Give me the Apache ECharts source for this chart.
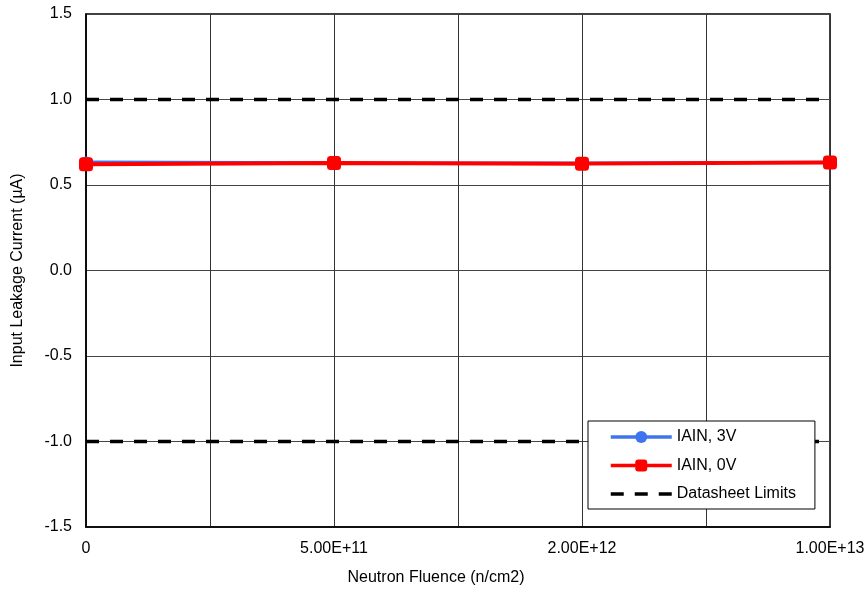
<!DOCTYPE html>
<html><head><meta charset="utf-8">
<script src="https://cdn.jsdelivr.net/npm/echarts@6/dist/echarts.min.js"></script>
<style>html,body{margin:0;padding:0;background:#fff}#c{width:868px;height:592px}</style>
</head><body><div id="c"></div>
<script>
var categories = ['0', '', '5.00E+11', '', '2.00E+12', '', '1.00E+13'];
var fluence = ['0', '5.00E+11', '2.00E+12', '1.00E+13'];
var iain3V = [0.635, 0.630, 0.628, 0.633];
var iain0V = [0.622, 0.628, 0.625, 0.631];
var limitUpper = [1.0, 1.0];
var limitLower = [-1.0, -1.0];
var limitX = ['0', '1.00E+13'];
var yTicks = [-1.5, -1.0, -0.5, 0.0, 0.5, 1.0, 1.5];

var catIdx = function (label) { return categories.indexOf(label); };
function pairs(xs, ys) { return xs.map(function (x, i) { return [catIdx(x), ys[i]]; }); }

var FONT = 'Liberation Sans, Arial, sans-serif';
var dashIcon = 'path://M0,0L0,0M61,15L61,15M0,5.75H13V9.25H0ZM24,5.75H37V9.25H24ZM48,5.75H61V9.25H48Z';
var chart = echarts.init(document.getElementById('c'), null, {renderer: 'canvas'});
chart.setOption({
  animation: false,
  backgroundColor: '#fff',
  textStyle: {fontFamily: FONT},
  grid: {left: 86, right: 38, top: 14, bottom: 65, show: true, borderColor: '#000', borderWidth: 1.5},
  xAxis: {
    type: 'category', data: categories, boundaryGap: false,
    name: 'Neutron Fluence (n/cm2)', nameLocation: 'middle', nameGap: 43,
    nameTextStyle: {fontSize: 16, color: '#000', fontFamily: FONT, padding: [0, 44, 0, 0]},
    axisLine: {show: true, onZero: false, lineStyle: {color: '#000', width: 1.5}},
    axisTick: {show: false},
    axisLabel: {interval: 0, fontSize: 16, color: '#000', margin: 14, fontFamily: FONT},
    splitLine: {show: true, interval: 0, lineStyle: {color: '#333', width: 1}}
  },
  yAxis: {
    type: 'value', min: yTicks[0], max: yTicks[yTicks.length - 1], interval: 0.5,
    name: 'Input Leakage Current (µA)', nameLocation: 'middle', nameGap: 60,
    nameTextStyle: {fontSize: 16, color: '#000', fontFamily: FONT},
    axisLine: {show: true, onZero: false, lineStyle: {color: '#000', width: 1.5}},
    axisTick: {show: false},
    axisLabel: {fontSize: 16, color: '#000', margin: 14, fontFamily: FONT,
      formatter: function (v) { return v.toFixed(1); }},
    splitLine: {show: true, lineStyle: {color: '#444', width: 1}}
  },
  legend: {
    orient: 'vertical', left: 588, top: 421,
    padding: [8, 19, 7, 21], itemGap: 12.5, itemWidth: 61, itemHeight: 15,
    backgroundColor: '#fff', borderColor: '#000', borderWidth: 1, borderRadius: 0,
    textStyle: {fontSize: 16, color: '#000', fontFamily: FONT},
    lineStyle: {width: 3.5},
    data: ['IAIN, 3V', 'IAIN, 0V',
      {name: 'Datasheet Limits', icon: dashIcon, itemStyle: {color: '#000', borderWidth: 0}}]
  },
  series: [
    {name: 'Datasheet Limits', type: 'line', data: pairs(limitX, limitUpper), symbol: 'none',
      lineStyle: {color: '#000', width: 3.5, type: [13, 11]}, itemStyle: {color: '#000'}, z: 3},
    {name: 'Datasheet Limits', type: 'line', data: pairs(limitX, limitLower), symbol: 'none',
      lineStyle: {color: '#000', width: 3.5, type: [13, 11]}, itemStyle: {color: '#000'}, z: 3},
    {name: 'IAIN, 3V', type: 'line', data: pairs(fluence, iain3V), symbol: 'circle', symbolSize: 11,
      lineStyle: {color: '#3f74f0', width: 3}, itemStyle: {color: '#3f74f0'}, z: 4},
    {name: 'IAIN, 0V', type: 'line', data: pairs(fluence, iain0V), symbol: 'roundRect', symbolSize: 14,
      lineStyle: {color: '#ff0000', width: 4}, itemStyle: {color: '#ff0000'}, z: 5}
  ]
});
</script></body></html>
